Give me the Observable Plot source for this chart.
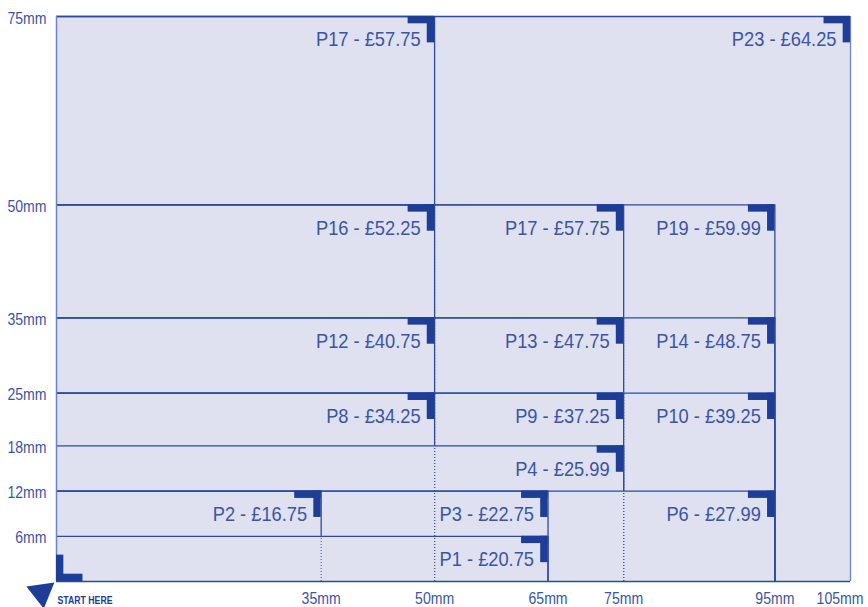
<!DOCTYPE html>
<html>
<head>
<meta charset="utf-8">
<script src="https://cdn.jsdelivr.net/npm/d3@7"></script>
<script src="https://cdn.jsdelivr.net/npm/@observablehq/plot@0.6"></script>
<style>
  html, body { margin: 0; padding: 0; background: #ffffff; }
  #chart svg { display: block; overflow: visible; }
</style>
</head>
<body>
<div id="chart"></div>
<script>
// ---- data ----
const codes   = ["P1", "P2", "P3", "P4", "P6", "P8", "P9", "P10", "P12", "P13", "P14", "P16", "P17", "P19", "P17", "P23"];
const prices  = [20.75, 16.75, 22.75, 25.99, 27.99, 34.25, 37.25, 39.25, 40.75, 47.75, 48.75, 52.25, 57.75, 59.99, 57.75, 64.25];
const widths  = [65, 35, 65, 75, 95, 50, 75, 95, 50, 75, 95, 50, 75, 95, 50, 105];   // mm
const heights = [6, 12, 12, 18, 12, 25, 25, 25, 35, 35, 35, 50, 50, 50, 75, 75];     // mm
const xTicks  = [35, 50, 65, 75, 95, 105];
const yTicks  = [6, 12, 18, 25, 35, 50, 75];
const startLabel = "START HERE";

// ---- styling ----
const FILL = "#dfe1f0", LINE = "#2e4a9e", LIGHT = "#6f83c4", TEXT = "#3a55a5", MARK = "#1d3d97";
const FONT = "'Liberation Sans', Arial, Helvetica, sans-serif";
const M = 3.5, T = 0.97; // corner marker length / thickness (mm)

const frames = codes.map((c, i) => ({code: c, price: prices[i], w: widths[i], h: heights[i]}));
// visible part of each right edge: it is hidden where a wider, lower frame covers it
frames.forEach(f => {
  const lower = frames.filter(g => g.w > f.w && g.h < f.h).map(g => g.h);
  f.base = lower.length ? d3.max(lower) : 0;
});
const xMax = d3.max(xTicks);
const fmt = d => d + "mm";

const chart = Plot.plot({
  width: 868,
  height: 607,
  marginLeft: 56,
  marginRight: 18,
  marginTop: 16,
  marginBottom: 26,
  style: {fontFamily: FONT, background: "#ffffff", overflow: "visible"},
  x: {domain: [0, 105], axis: null},
  y: {domain: [0, 75], axis: null},
  color: {type: "identity"},
  marks: [
    Plot.rect(frames, {x1: 0, x2: "w", y1: 0, y2: "h", fill: FILL}),
    // dotted guide lines below hidden edges
    Plot.ruleX(frames.filter(f => f.base > 0), {x: "w", y1: 0, y2: "base", stroke: TEXT, strokeWidth: 1, strokeDasharray: "1,2"}),
    // top edges
    Plot.ruleY(frames, {y: "h", x1: 0, x2: "w", stroke: LINE, strokeWidth: 1.3}),
    // right edges
    Plot.ruleX(frames, {x: "w", y1: "base", y2: "h", stroke: d => d.w === 105 ? LIGHT : LINE, strokeWidth: 1.3}),
    // baseline and left edge
    Plot.ruleY([0], {x1: 0, x2: 105, stroke: LINE, strokeWidth: 1.3}),
    Plot.ruleX([0], {y1: 0, y2: 75, stroke: LIGHT, strokeWidth: 1.5}),
    // corner markers
    Plot.rect(frames, {x1: d => d.w - M, x2: "w", y1: d => d.h - T, y2: "h", fill: MARK}),
    Plot.rect(frames, {x1: d => d.w - T, x2: "w", y1: d => d.h - M, y2: "h", fill: MARK}),
    Plot.rect([0], {x1: 0, x2: T, y1: 0, y2: M, fill: MARK}),
    Plot.rect([0], {x1: 0, x2: M, y1: 0, y2: T, fill: MARK}),
    // labels
    Plot.text(frames, {x: "w", y: "h", text: d => `${d.code} - £${d.price.toFixed(2)}`,
      textAnchor: "end", dx: -14, dy: 23, fontSize: 21, fill: TEXT}),
    // axes
    Plot.text(xTicks.filter(d => d !== xMax), {x: d => d, y: 0, text: fmt, dy: 17, fontSize: 16, fill: TEXT}),
    Plot.text([xMax], {x: d => d, y: 0, text: fmt, dy: 17, dx: 13, textAnchor: "end", fontSize: 16, fill: TEXT}),
    Plot.text(yTicks, {x: 0, y: d => d, text: fmt, textAnchor: "end", dx: -10, dy: 2, fontSize: 16, fill: TEXT}),
    // start marker
    Plot.dot([0], {x: 0, y: 0, symbol: "triangle", r: 10.5, rotate: 172, dx: -15, dy: 11, fill: MARK, stroke: null}),
    Plot.text([startLabel], {x: 0, y: 0, text: d => d, textAnchor: "start", dx: 1, dy: 19, fontSize: 11, fontWeight: "bold", fill: MARK})
  ]
});

document.getElementById("chart").appendChild(chart);

// condense the text to match the narrow typeface of the reference
d3.select(chart).selectAll("text").each(function () {
  const t = this.textContent;
  const len = this.getComputedTextLength();
  if (!len) return;
  let target;
  if (t === startLabel) target = 55;
  else if (t.endsWith("mm")) target = len * 0.88;
  else target = len * 0.87;
  this.setAttribute("textLength", target);
  this.setAttribute("lengthAdjust", "spacingAndGlyphs");
});
</script>
</body>
</html>
